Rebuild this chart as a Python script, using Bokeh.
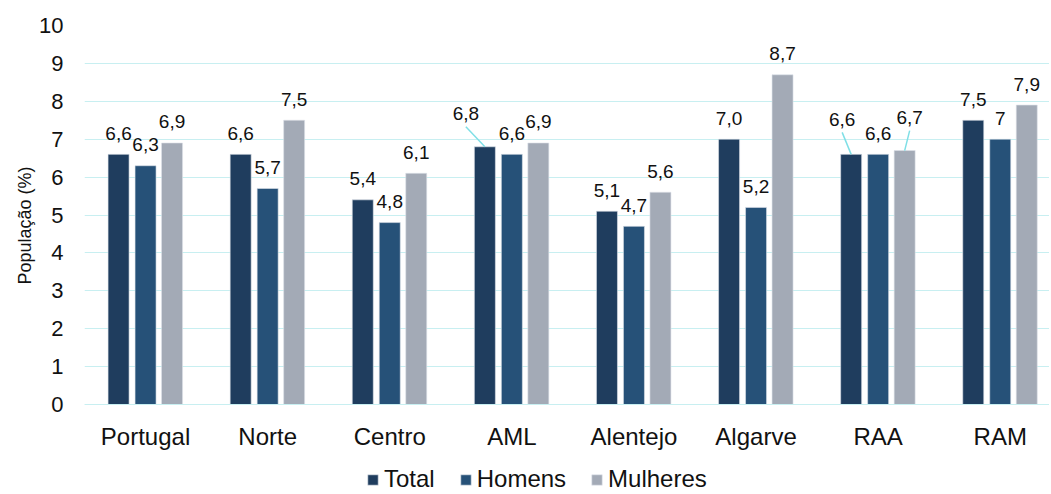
from bokeh.plotting import figure
from bokeh.models import Range1d, FixedTicker, Legend, LegendItem, ColumnDataSource, Title
from bokeh.embed import file_html
from bokeh.resources import INLINE
from bokeh.core.properties import value

categories = ["Portugal", "Norte", "Centro", "AML", "Alentejo", "Algarve", "RAA", "RAM"]
series = ["Total", "Homens", "Mulheres"]
total = [6.6, 6.6, 5.4, 6.8, 5.1, 7.0, 6.6, 7.5]
homens = [6.3, 5.7, 4.8, 6.6, 4.7, 5.2, 6.6, 7.0]
mulheres = [6.9, 7.5, 6.1, 6.9, 5.6, 8.7, 6.7, 7.9]
total_labels = ["6,6", "6,6", "5,4", "6,8", "5,1", "7,0", "6,6", "7,5"]
homens_labels = ["6,3", "5,7", "4,8", "6,6", "4,7", "5,2", "6,6", "7"]
mulheres_labels = ["6,9", "7,5", "6,1", "6,9", "5,6", "8,7", "6,7", "7,9"]
y_ticks = list(range(0, 11))
y_title = "População (%)"

colors = ["#1f3d5e", "#265178", "#a3aab6"]
FONT = "Liberation Sans"

# style: pixel scale & displaced labels (with leader lines)
PX_X = 122.1
PX_Y = 37.9
W, H = 1049, 493
BORDER_L, BORDER_T = 84, 25
label_shift = {(3, 0): (-19, -12), (6, 0): (-9, -14), (6, 2): (5, -12)}

frame_w = W - BORDER_L
frame_h = H - BORDER_T
y_top = 10
y_bottom = y_top - frame_h / PX_Y

# frame runs to the bottom of the canvas; the x axis sits at y = 0
p = figure(width=W, height=H, output_backend="svg", toolbar_location=None,
           x_range=Range1d(-0.5, -0.5 + frame_w / PX_X), y_range=Range1d(y_bottom, y_top),
           min_border_left=BORDER_L, min_border_right=0, min_border_top=BORDER_T, min_border_bottom=0)
p.outline_line_color = None
p.background_fill_color = "white"
p.border_fill_color = "white"

offsets = [-0.221, 0.0, 0.217]
bar_w = 0.172
vals = [total, homens, mulheres]
labs = [total_labels, homens_labels, mulheres_labels]
renderers = []
for si, (vv, ll, off, col) in enumerate(zip(vals, labs, offsets, colors)):
    xs = [i + off for i in range(len(categories))]
    r = p.vbar(x=xs, top=vv, bottom=0, width=bar_w, fill_color=col, line_color="#dde3ea", line_width=0.6)
    renderers.append(r)
    xo, yo = [], []
    for i in range(len(categories)):
        dx, dy = label_shift.get((i, si), (0, 0))
        xo.append(dx)
        yo.append(-21 + dy)
        if (i, si) in label_shift:
            x0 = xs[i] + dx / PX_X
            y0 = vv[i] + (21 - dy - 13) / PX_Y
            p.segment(x0=[x0], y0=[y0], x1=[xs[i]], y1=[vv[i]], line_color="#7fdfe6", line_width=1.5)
    src = ColumnDataSource(dict(x=xs, y=vv, t=ll, xo=xo, yo=yo))
    p.text(x="x", y="y", text="t", source=src, x_offset="xo", y_offset="yo",
           text_align="center", text_baseline="middle", text_font=value(FONT),
           text_font_size="19px", text_color="#111111")

p.xgrid.grid_line_color = None
p.ygrid.grid_line_color = "#c8eff1"
p.ygrid.grid_line_width = 1.2
p.yaxis.ticker = FixedTicker(ticks=y_ticks)
p.ygrid.ticker = FixedTicker(ticks=y_ticks)
p.xaxis.ticker = FixedTicker(ticks=list(range(len(categories))))
p.xaxis.major_label_overrides = {i: c for i, c in enumerate(categories)}
p.xaxis.fixed_location = 0

for ax in (p.xaxis[0], p.yaxis[0]):
    ax.major_tick_line_color = None
    ax.minor_tick_line_color = None
    ax.major_label_text_font = FONT
    ax.major_label_text_color = "#111111"
p.xaxis.major_label_text_font_size = "24px"
p.yaxis.major_label_text_font_size = "22px"
p.xaxis.axis_line_color = "#c8eff1"
p.xaxis.major_label_standoff = 12
p.yaxis.axis_line_color = None
p.yaxis.major_label_standoff = 15

# y-axis title, placed like the reference (a little below the plot's centre)
p.add_layout(Title(text=y_title, align="left", offset=209, standoff=4,
                   text_font=FONT, text_font_size="18px", text_font_style="normal",
                   text_color="#111111"), "left")

legend = Legend(items=[LegendItem(label=s, renderers=[r]) for s, r in zip(series, renderers)],
                orientation="horizontal", location=(282, 0),
                glyph_width=13, glyph_height=13, label_standoff=5, spacing=24,
                label_text_font=FONT, label_text_font_size="24px", label_text_color="#111111",
                padding=0, margin=0, border_line_color=None, background_fill_alpha=0,
                label_height=18)
p.add_layout(legend)

open("out.html", "w").write(file_html(p, INLINE))
